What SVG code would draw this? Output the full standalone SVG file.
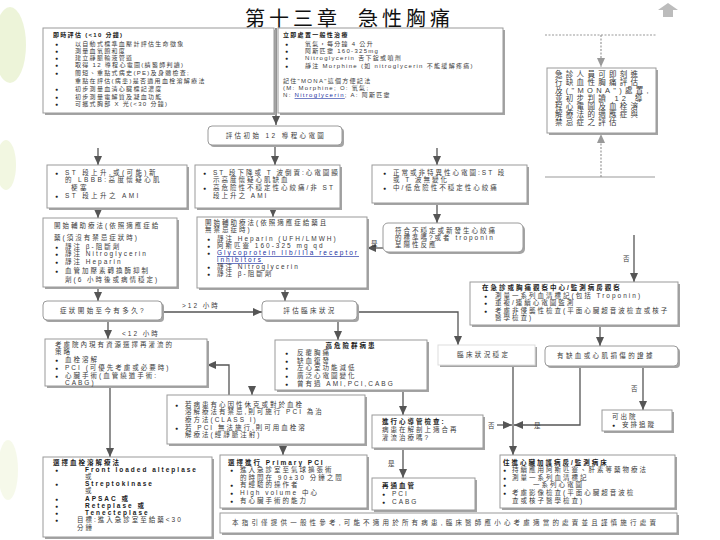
<svg xmlns="http://www.w3.org/2000/svg" width="720" height="540" viewBox="0 0 720 540">
<style>
.t{font-family:"Liberation Sans","Noto Sans CJK TC","Noto Sans CJK SC",sans-serif;font-size:6.5px;fill:#3a3a3a;letter-spacing:2px}
.s{font-size:6px;letter-spacing:1.3px}
.w{letter-spacing:2.4px}
.b{font-weight:bold;fill:#1a1a1a}
.u{fill:#1a2fa0;text-decoration:underline}
.bu{font-size:5px;letter-spacing:0;fill:#222}
.title{font-family:"Noto Sans CJK TC","Noto Sans CJK SC",sans-serif;font-size:20px;fill:#111;letter-spacing:4px}
.bx{fill:#fff;stroke:#9a9a9a;stroke-width:1}
.sh{fill:#a4a4a4}
.c{fill:none;stroke:#555;stroke-width:1.3}
.d{fill:none;stroke:#999;stroke-width:1.2;stroke-dasharray:2 1.5}
</style>
<defs>
<marker id="a" markerUnits="userSpaceOnUse" markerWidth="9" markerHeight="8" refX="9" refY="4" orient="auto">
<path d="M0,0 L9,4 L0,8 z" fill="#555"/>
</marker>
<marker id="ag" markerUnits="userSpaceOnUse" markerWidth="9" markerHeight="8" refX="9" refY="4" orient="auto">
<path d="M0,0 L9,4 L0,8 z" fill="#999"/>
</marker>
</defs>
<rect width="720" height="540" fill="#fff"/>
<g id="decor" opacity="0.5">
<ellipse cx="10" cy="45" rx="16" ry="38" fill="#dcebb4"/>
<ellipse cx="6" cy="165" rx="10" ry="25" fill="#e6f0c4"/>
<ellipse cx="8" cy="470" rx="10" ry="30" fill="#eef4d6"/>
<polygon points="668,3 678,10 673,10 673,17 663,17 663,10 658,10" fill="#7a7a7a"/>
</g>
<text class="title" x="245" y="26">第十三章</text>
<text class="title" x="358" y="26">急性胸痛</text>

<g id="connectors">
<path class="c" d="M276,28 V125" marker-end="url(#a)"/>
<path class="c" d="M98,148 V165" marker-end="url(#a)"/>
<path class="c" d="M275,145 V165" marker-end="url(#a)"/>
<path class="c" d="M437,148 V165" marker-end="url(#a)"/>
<path class="c" d="M98,208 V218" marker-end="url(#a)"/>
<path class="c" d="M273,208 V217" marker-end="url(#a)"/>
<path class="c" d="M437,203 V223" marker-end="url(#a)"/>
<path class="c" d="M383,248 H367" marker-end="url(#a)"/>
<path class="c" d="M634,235 V282" marker-end="url(#a)"/>
<path class="c" d="M98,287 V301" marker-end="url(#a)"/>
<path class="c" d="M285,288 V301" marker-end="url(#a)"/>
<path class="c" d="M162,312 H262" marker-end="url(#a)"/>
<path class="c" d="M357,312 H458 V345" marker-end="url(#a)"/>
<path class="c" d="M108,320 V339" marker-end="url(#a)"/>
<path class="c" d="M338,320 V340" marker-end="url(#a)"/>
<path class="c" d="M229,395 V365 H207" marker-end="url(#a)"/>
<path class="c" d="M252,386 V395" marker-end="url(#a)"/>
<path class="c" d="M110,386 V457" marker-end="url(#a)"/>
<path class="c" d="M283,444 V455" marker-end="url(#a)"/>
<path class="c" d="M600,325 V346" marker-end="url(#a)"/>
<path class="c" d="M513,365 V455" marker-end="url(#a)"/>
<path class="c" d="M580,366 V425 H514" marker-end="url(#a)"/>
<path class="c" d="M497,425 H512" marker-end="url(#a)"/>
<path class="c" d="M643,366 V410" marker-end="url(#a)"/>
<path class="c" d="M403,390 V415" marker-end="url(#a)"/>
<path class="c" d="M403,448 V478" marker-end="url(#a)"/>
<path class="d" d="M545,35 H657"/>
<path class="d" d="M601,35 V67" marker-end="url(#ag)"/>
<path class="d" d="M601,177 V134" marker-end="url(#ag)"/>
<path d="M545,177 H655" stroke="#999" stroke-width="1" fill="none"/>
<text class="t" x="371" y="246">是</text>
<text class="t" x="623" y="261">否</text>
<text class="t" x="182" y="308">&gt;12 小時</text>
<text class="t" x="122" y="336">&lt;12 小時</text>
<text class="t" x="534" y="428">是</text>
<text class="t" x="488" y="428">否</text>
<text class="t" x="631" y="391">否</text>
<text class="t" x="388" y="466">是</text>
</g>

<g id="n-immediate">
<rect class="sh" x="45" y="30" width="231" height="85"/>
<rect class="bx" x="43" y="28" width="231" height="85"/>
<text class="t s b" x="53" y="37">即時評估 (&lt;10 分鐘)</text>
<g class="t s">
<text class="bu" x="55" y="46">●</text><text x="75" y="46">以自動式標準血壓計評估生命徵象</text>
<text class="bu" x="55" y="53">●</text><text x="75" y="53">測量血氧飽和度</text>
<text class="bu" x="55" y="60">●</text><text x="75" y="60">建立靜脈輸液管道</text>
<text class="bu" x="55" y="67">●</text><text x="75" y="67">取得 12 導程心電圖(請醫師判讀)</text>
<text class="bu" x="55" y="75">●</text><text x="75" y="75">簡短、重點式病史(PE)及身體檢查;</text>
<text x="75" y="83">重點在評估(病患)是否適用血栓溶解療法</text>
<text class="bu" x="55" y="91">●</text><text x="75" y="91">初步測量血清心臟標記濃度</text>
<text class="bu" x="55" y="99">●</text><text x="75" y="99">初步測量電解質及凝血功能</text>
<text class="bu" x="55" y="106">●</text><text x="75" y="106">可攜式胸部 X 光(&lt;30 分鐘)</text>
</g>
</g>

<g id="n-general">
<rect class="sh" x="280" y="30" width="225" height="85"/>
<rect class="bx" x="278" y="28" width="225" height="85"/>
<text class="t s b" x="283" y="37">立即處置一般性治療</text>
<g class="t s">
<text class="bu" x="285" y="46">●</text><text x="305" y="46">氧氣，每分鐘 4 公升</text>
<text class="bu" x="285" y="53">●</text><text x="305" y="53">阿斯匹靈 160-325mg</text>
<text class="bu" x="285" y="60">●</text><text x="305" y="60">Nitroglycerin 舌下錠或噴劑</text>
<text class="bu" x="285" y="68">●</text><text x="305" y="68">靜注 Morphine (如 nitroglycerin 不能緩解疼痛)</text>
<text x="283" y="83">記住"MONA"這個方便記法</text>
<text x="283" y="90">(M: Morphine; O: 氧氣;</text>
<text x="283" y="97">N: <tspan class="u">Nitroglycerin</tspan>; A: 阿斯匹靈</text>
</g>
</g>

<g id="n-note">
<rect class="sh" x="549" y="70" width="109" height="65"/>
<rect class="bx" x="547" y="68" width="109" height="65"/>
<g class="t" style="font-size:7.5px;letter-spacing:3.3px">
<text x="555" y="77">急診人員可即刻進</text>
<text x="555" y="85">行缺血性胸痛評估</text>
<text x="555" y="93">及("MONA")處置,</text>
<text x="555" y="101">並初步判讀 12 導</text>
<text x="555" y="109">程心電圖及血栓溶</text>
<text x="555" y="117">解療法的適應症與</text>
<text x="555" y="125">禁忌症之評估</text>
</g>
</g>

<g id="n-ecg">
<rect class="sh" x="210" y="128" width="134" height="19" rx="4"/>
<rect class="bx" x="208" y="126" width="134" height="19" rx="4"/>
<text class="t w" x="276" y="138" text-anchor="middle">評估初始 12 導程心電圖</text>
</g>

<g id="n-stemi">
<rect class="sh" x="49" y="167" width="140" height="43"/>
<rect class="bx" x="47" y="165" width="140" height="43"/>
<g class="t w">
<text class="bu" x="55" y="175">●</text><text x="65" y="175">ST 段上升,或(可能)新</text>
<text x="65" y="182">的 LBBB:高度懷疑心肌</text>
<text x="71" y="190">梗塞</text>
<text class="bu" x="55" y="198">●</text><text x="65" y="198">ST 段上升之 AMI</text>
</g>
</g>

<g id="n-nstemi">
<rect class="sh" x="197" y="167" width="145" height="43"/>
<rect class="bx" x="195" y="165" width="145" height="43"/>
<g class="t">
<text class="bu" x="203" y="175">●</text><text x="213" y="175">ST 段下降或 T 波倒置:心電圖顯</text>
<text x="213" y="182">示高度懷疑心肌缺血</text>
<text class="bu" x="203" y="190">●</text><text x="213" y="190">高危險性不穩定性心絞痛/非 ST</text>
<text x="213" y="198">段上升之 AMI</text>
</g>
</g>

<g id="n-normal">
<rect class="sh" x="374" y="167" width="155" height="38"/>
<rect class="bx" x="372" y="165" width="155" height="38"/>
<g class="t">
<text class="bu" x="383" y="175">●</text><text x="393" y="175">正常或非特異性心電圖:ST 段</text>
<text x="393" y="182">或 T 波無變化</text>
<text class="bu" x="383" y="190">●</text><text x="393" y="190">中/低危險性不穩定性心絞痛</text>
</g>
</g>

<g id="n-adj1">
<rect class="sh" x="45" y="220" width="134" height="69"/>
<rect class="bx" x="43" y="218" width="134" height="69"/>
<g class="t">
<text x="54" y="228">開始輔助療法(依照適應症給</text>
<text x="54" y="240">藥(須沒有禁忌症狀時)</text>
<text class="bu" x="55" y="249">●</text><text x="65" y="249">靜注 β-阻斷劑</text>
<text class="bu" x="55" y="256">●</text><text x="65" y="256">靜注 Nitroglycerin</text>
<text class="bu" x="55" y="264">●</text><text x="65" y="264">靜注 Heparin</text>
<text class="bu" x="55" y="273">●</text><text x="65" y="273">血管加壓素轉換酶抑制</text>
<text x="65" y="282">劑(6 小時後或病情穩定)</text>
</g>
</g>

<g id="n-adj2">
<rect class="sh" x="199" y="219" width="170" height="71"/>
<rect class="bx" x="197" y="217" width="170" height="71"/>
<g class="t">
<text x="205" y="225">開始輔助療法(依照適應症給藥且</text>
<text x="205" y="232">無禁忌症時)</text>
<text class="bu" x="207" y="241">●</text><text x="217" y="241">靜注 Heparin (UFH/LMWH)</text>
<text class="bu" x="207" y="248">●</text><text x="217" y="248">阿斯匹靈 160-325 mg qd</text>
<text class="bu" x="207" y="255">●</text><text class="u" x="217" y="255">Glycoprotein IIb/IIIa receptor</text>
<text class="u" x="217" y="262">inhibitors</text>
<text class="bu" x="207" y="269">●</text><text x="217" y="269">靜注 Nitroglycerin</text>
<text class="bu" x="207" y="276">●</text><text x="217" y="276">靜注 β-阻斷劑</text>
</g>
</g>

<g id="n-unstable">
<rect class="sh" x="385" y="225" width="140" height="29" rx="5"/>
<rect class="bx" x="383" y="223" width="140" height="29" rx="5"/>
<g class="t">
<text x="395" y="233">符合不穩定或新發生心絞痛</text>
<text x="395" y="240">的標準嗎?或者 troponin</text>
<text x="395" y="247">呈陽性反應</text>
</g>
</g>

<g id="n-observe">
<rect class="sh" x="472" y="284" width="208" height="43"/>
<rect class="bx" x="470" y="282" width="208" height="43"/>
<g class="t">
<text class="b" x="482" y="290">在急診或胸痛觀察中心/監測病房觀察</text>
<text class="bu" x="484" y="298">●</text><text x="495" y="298">測量一系列血清標記(包括 Troponin)</text>
<text class="bu" x="484" y="305">●</text><text x="495" y="305">重複/連續心電圖監測</text>
<text class="bu" x="484" y="313">●</text><text x="495" y="313">考慮非侵襲性檢查(平面心臟超音波檢查或核子</text>
<text x="495" y="320">醫學檢查)</text>
</g>
</g>

<g id="n-onset">
<rect class="sh" x="45" y="303" width="119" height="19" rx="4"/>
<rect class="bx" x="43" y="301" width="119" height="19" rx="4"/>
<text class="t w" x="103" y="313" text-anchor="middle">症狀開始至今有多久?</text>
</g>

<g id="n-clinical">
<rect class="sh" x="264" y="303" width="95" height="19" rx="4"/>
<rect class="bx" x="262" y="301" width="95" height="19" rx="4"/>
<text class="t w" x="310" y="313" text-anchor="middle">評估臨床狀況</text>
</g>

<g id="n-strategy">
<rect class="sh" x="47" y="341" width="162" height="47"/>
<rect class="bx" x="45" y="339" width="162" height="47"/>
<g class="t">
<text x="55" y="347">考慮院內現有資源選擇再灌流的</text>
<text x="55" y="354">策略</text>
<text class="bu" x="55" y="362">●</text><text x="65" y="362">血栓溶解</text>
<text class="bu" x="55" y="370">●</text><text x="65" y="370">PCI (可優先考慮或必要時)</text>
<text class="bu" x="55" y="378">●</text><text x="65" y="378">心臟手術(血管繞道手術:</text>
<text x="65" y="385">CABG)</text>
</g>
</g>

<g id="n-highrisk">
<rect class="sh" x="277" y="342" width="152" height="50"/>
<rect class="bx" x="275" y="340" width="152" height="50"/>
<g class="t">
<text class="b" x="351" y="348" text-anchor="middle">高危險群病患</text>
<text class="bu" x="285" y="355">●</text><text x="297" y="355">反覆胸痛</text>
<text class="bu" x="285" y="363">●</text><text x="297" y="363">缺血復發</text>
<text class="bu" x="285" y="370">●</text><text x="297" y="370">左心室功能減低</text>
<text class="bu" x="285" y="378">●</text><text x="297" y="378">廣泛心電圖變化</text>
<text class="bu" x="285" y="386">●</text><text x="297" y="386">曾有過 AMI,PCI,CABG</text>
</g>
</g>

<g id="n-shock">
<rect class="sh" x="169" y="397" width="198" height="49"/>
<rect class="bx" x="167" y="395" width="198" height="49"/>
<g class="t">
<text class="bu" x="175" y="407">●</text><text x="185" y="407">若病患有心因性休克或對於血栓</text>
<text x="185" y="414">溶解療法有禁忌,則可施行 PCI 為治</text>
<text x="185" y="422">療方法(CLASS I)</text>
<text class="bu" x="175" y="430">●</text><text x="185" y="430">若 PCI 無法施行,則可用血栓溶</text>
<text x="185" y="437">解療法(經靜脈注射)</text>
</g>
</g>

<g id="n-lysis">
<rect class="sh" x="45" y="459" width="169" height="80"/>
<rect class="bx" x="43" y="457" width="169" height="80"/>
<g class="t">
<text class="b" x="53" y="465">選擇血栓溶解療法</text>
<text class="bu" x="55" y="472">●</text><text class="b" x="85" y="472">Front loaded alteplase</text>
<text x="85" y="479">或</text>
<text class="bu" x="55" y="486">●</text><text class="b" x="85" y="486">Streptokinase</text>
<text x="85" y="493">或</text>
<text class="bu" x="55" y="501">●</text><text class="b" x="85" y="501">APSAC 或</text>
<text class="bu" x="55" y="508">●</text><text class="b" x="85" y="508">Reteplase 或</text>
<text class="bu" x="55" y="515">●</text><text class="b" x="85" y="515">Tenecteplase</text>
<text class="bu" x="55" y="522">●</text><text x="77" y="522">目標:進入急診室至給藥&lt;30</text>
<text x="77" y="530">分鐘</text>
</g>
</g>

<g id="n-pci">
<rect class="sh" x="222" y="457" width="147" height="53"/>
<rect class="bx" x="220" y="455" width="147" height="53"/>
<g class="t">
<text class="b" x="228" y="465">選擇進行 Primary PCI</text>
<text class="bu" x="230" y="472">●</text><text x="240" y="472">進入急診室至氣球擴張術</text>
<text x="240" y="480">的時間在 90±30 分鐘之間</text>
<text class="bu" x="230" y="487">●</text><text x="240" y="487">有經驗的操作者</text>
<text class="bu" x="230" y="495">●</text><text x="240" y="495">High volume 中心</text>
<text class="bu" x="230" y="503">●</text><text x="240" y="503">有心臟手術的能力</text>
</g>
</g>

<g id="n-stable">
<rect class="sh" x="440" y="347" width="97" height="20"/>
<rect class="bx" x="438" y="345" width="97" height="20" style="stroke:#ddd"/>
<text class="t w" x="457" y="357">臨床狀況穩定</text>
</g>

<g id="n-evidence">
<rect class="sh" x="547" y="348" width="133" height="20" rx="4"/>
<rect class="bx" x="545" y="346" width="133" height="20" rx="4"/>
<text class="t w" x="557" y="358">有缺血或心肌損傷的證據</text>
</g>

<g id="n-discharge">
<rect class="sh" x="604" y="412" width="70" height="21"/>
<rect class="bx" x="602" y="410" width="70" height="21"/>
<g class="t">
<text x="612" y="419">可出院</text>
<text class="bu" x="612" y="427">●</text><text x="622" y="427">安排追蹤</text>
</g>
</g>

<g id="n-cath">
<rect class="sh" x="374" y="417" width="111" height="33"/>
<rect class="bx" x="372" y="415" width="111" height="33"/>
<g class="t">
<text class="b" x="382" y="424">進行心導管檢查:</text>
<text x="382" y="432">病患在解剖上適合再</text>
<text x="382" y="440">灌流治療嗎?</text>
</g>
</g>

<g id="n-revasc">
<rect class="sh" x="374" y="480" width="103" height="32"/>
<rect class="bx" x="372" y="478" width="103" height="32"/>
<g class="t">
<text class="b" x="382" y="488">再通血管</text>
<text class="bu" x="382" y="496">●</text><text x="392" y="496">PCI</text>
<text class="bu" x="382" y="504">●</text><text x="392" y="504">CABG</text>
</g>
</g>

<g id="n-ccu">
<rect class="sh" x="502" y="457" width="175" height="53"/>
<rect class="bx" x="500" y="455" width="175" height="53"/>
<g class="t">
<text class="b" x="503" y="465">住進心臟加護病房/監測病床</text>
<text class="bu" x="503" y="472">●</text><text x="512" y="472">持續應用阿斯匹靈、肝素等藥物療法</text>
<text class="bu" x="503" y="480">●</text><text x="512" y="480">測量一系列血清標記</text>
<text class="bu" x="503" y="487">●</text><text x="533" y="487">一系列心電圖</text>
<text class="bu" x="503" y="495">●</text><text x="512" y="495">考慮影像檢查(平面心臟超音波檢</text>
<text x="512" y="503">查或核子醫學檢查)</text>
</g>
</g>

<g id="n-footer">
<rect class="sh" x="222" y="515" width="457" height="20"/>
<rect class="bx" x="220" y="513" width="457" height="20"/>
<text class="t" x="232" y="525" style="letter-spacing:3.2px">本指引僅提供一般性參考,可能不適用於所有病患,臨床醫師應小心考慮適當的處置並且謹慎施行處置</text>
</g>
</svg>
